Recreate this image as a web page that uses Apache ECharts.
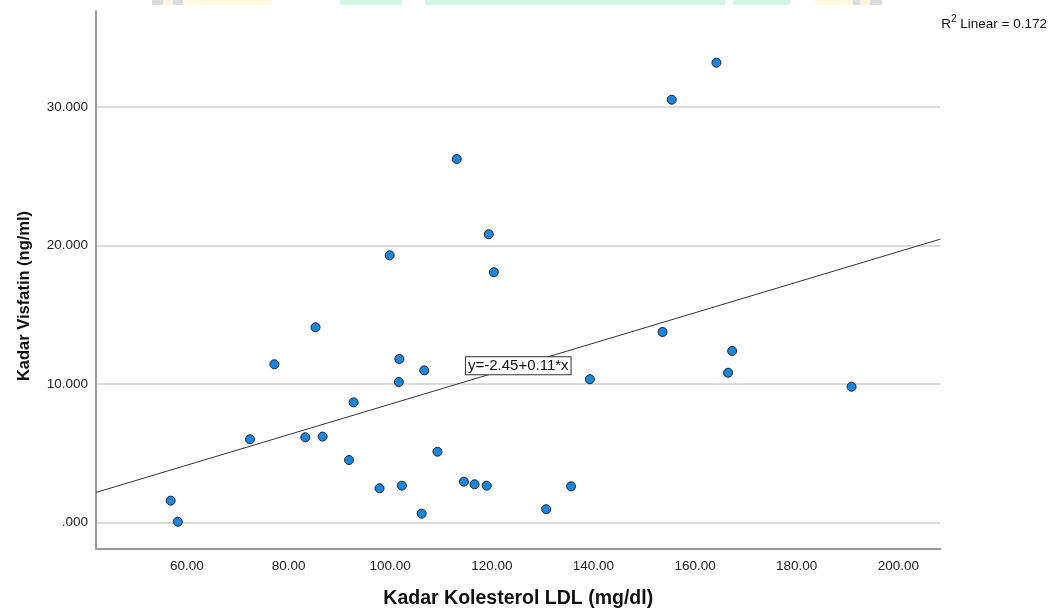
<!DOCTYPE html>
<html>
<head>
<meta charset="utf-8">
<script src="https://cdn.jsdelivr.net/npm/echarts@6/dist/echarts.min.js"></script>
<style>
html,body{margin:0;padding:0;background:#fff;}
#chart{width:1055px;height:615px;}
</style>
</head>
<body>
<div id="chart"></div>
<script>
// ---- data ----
var ldl = [56.8, 58.2, 72.4, 77.2, 83.3, 85.3, 86.7, 91.9, 92.8, 97.9, 99.9, 101.7, 101.8, 102.3, 106.2, 106.7,
           109.3, 113.1, 114.5, 116.6, 119.0, 119.4, 120.4, 130.7, 135.6, 139.3, 153.6, 155.4, 164.2, 166.5, 167.3, 190.8];
var visfatin = [1.59, 0.07, 6.02, 11.43, 6.16, 14.10, 6.21, 4.52, 8.68, 2.48, 19.29, 10.15, 11.81, 2.67, 0.65, 10.99,
                5.12, 26.24, 2.96, 2.77, 2.67, 20.81, 18.07, 0.97, 2.62, 10.35, 13.76, 30.52, 33.19, 10.82, 12.39, 9.81];
var xTicks = [60, 80, 100, 120, 140, 160, 180, 200];
var yTicks = [0, 10, 20, 30];
var fitIntercept = -2.45;
var fitSlope = 0.11;
var rSquared = '0.172';
var xTitle = 'Kadar Kolesterol LDL (mg/dl)';
var yTitle = 'Kadar Visfatin (ng/ml)';

// ---- chart ----
var xMin = 42.1, xMax = 208.3, yMin = -1.9, yMax = 36.92;
var FONT = "Arial, 'Liberation Sans', sans-serif";
var points = ldl.map(function (x, i) { return [x, visfatin[i]]; });
var fitLine = [[xMin, fitIntercept + fitSlope * xMin], [xMax, fitIntercept + fitSlope * xMax]];
var xMid = (xMin + xMax) / 2;

function fmtY(v) { var s = v.toFixed(3); return s.indexOf('0.') === 0 ? s.slice(1) : s; }

var chart = echarts.init(document.getElementById('chart'), null, {renderer: 'canvas'});
chart.setOption({
  animation: false,
  backgroundColor: '#ffffff',
  textStyle: {fontFamily: FONT},
  grid: {left: 96, right: 114.5, top: 11, bottom: 66},
  xAxis: {
    type: 'value', min: xMin, max: xMax,
    axisLine: {show: true, onZero: false, lineStyle: {color: '#999999', width: 2}},
    axisTick: {show: false, customValues: xTicks},
    axisLabel: {customValues: xTicks, formatter: function (v) { return v.toFixed(2); },
      fontSize: 13.5, color: '#222', margin: 10, fontFamily: FONT},
    splitLine: {show: false},
    name: xTitle, nameLocation: 'middle', nameGap: 40,
    nameTextStyle: {fontSize: 19.5, fontWeight: 'bold', color: '#111', fontFamily: FONT}
  },
  yAxis: {
    type: 'value', min: yMin, max: yMax,
    axisLine: {show: true, onZero: false, lineStyle: {color: '#999999', width: 2}},
    axisTick: {show: false, customValues: yTicks},
    axisLabel: {customValues: yTicks, formatter: fmtY, fontSize: 13.5, color: '#222', margin: 8,
      fontFamily: FONT, padding: [4, 0, 0, 0]},
    splitLine: {show: true, lineStyle: {color: '#cfcfcf', width: 1.5}},
    name: yTitle, nameLocation: 'middle', nameGap: 63,
    nameTextStyle: {fontSize: 16.5, fontWeight: 'bold', color: '#111', fontFamily: FONT, padding: [0, 32, 0, 0]}
  },
  series: [
    {
      type: 'line', data: fitLine, symbol: 'none', silent: true,
      lineStyle: {color: '#333', width: 1},
      markPoint: {
        symbol: 'rect', symbolSize: 0, silent: true,
        data: [{coord: [xMid, fitIntercept + fitSlope * xMid]}],
        label: {
          show: true, position: 'inside',
          formatter: 'y=' + fitIntercept + '+' + fitSlope + '*x',
          fontSize: 15, color: '#111', fontFamily: FONT,
          backgroundColor: '#fff', borderColor: '#333', borderWidth: 1, padding: [1, 2, 1, 2]
        }
      }
    },
    {
      type: 'scatter', data: points, symbol: 'circle', symbolSize: 9, z: 3,
      itemStyle: {color: '#1587e0', borderColor: '#222', borderWidth: 1, opacity: 1}
    }
  ],
  graphic: [
    {type: 'rect', shape: {x: 152, y: 0, width: 11, height: 5}, style: {fill: '#dcdcdc'}, silent: true},
    {type: 'rect', shape: {x: 163, y: 0, width: 10, height: 5}, style: {fill: '#fff4e0'}, silent: true},
    {type: 'rect', shape: {x: 173, y: 0, width: 10, height: 5}, style: {fill: '#dcdcdc'}, silent: true},
    {type: 'rect', shape: {x: 183, y: 0, width: 89, height: 5}, style: {fill: '#fffbe0'}, silent: true},
    {type: 'rect', shape: {x: 340, y: 0, width: 62, height: 5}, style: {fill: '#d2f7e4'}, silent: true},
    {type: 'rect', shape: {x: 425, y: 0, width: 300, height: 5}, style: {fill: '#d2f7e4'}, silent: true},
    {type: 'rect', shape: {x: 733, y: 0, width: 57, height: 5}, style: {fill: '#d2f7e4'}, silent: true},
    {type: 'rect', shape: {x: 815, y: 0, width: 38, height: 5}, style: {fill: '#fffbe0'}, silent: true},
    {type: 'rect', shape: {x: 853, y: 0, width: 7, height: 5}, style: {fill: '#dcdcdc'}, silent: true},
    {type: 'rect', shape: {x: 860, y: 0, width: 10, height: 5}, style: {fill: '#fff4e0'}, silent: true},
    {type: 'rect', shape: {x: 870, y: 0, width: 12, height: 5}, style: {fill: '#dcdcdc'}, silent: true},
    {
      type: 'text', right: 8, top: 14, silent: true,
      style: {
        text: '{r|R}{s|2}{r| Linear = ' + rSquared + '}',
        rich: {
          r: {fontSize: 13.5, fontFamily: FONT, fill: '#111', lineHeight: 17, verticalAlign: 'bottom'},
          s: {fontSize: 10, fontFamily: FONT, fill: '#111', lineHeight: 17, verticalAlign: 'top'}
        }
      }
    }
  ]
});
</script>
</body>
</html>
